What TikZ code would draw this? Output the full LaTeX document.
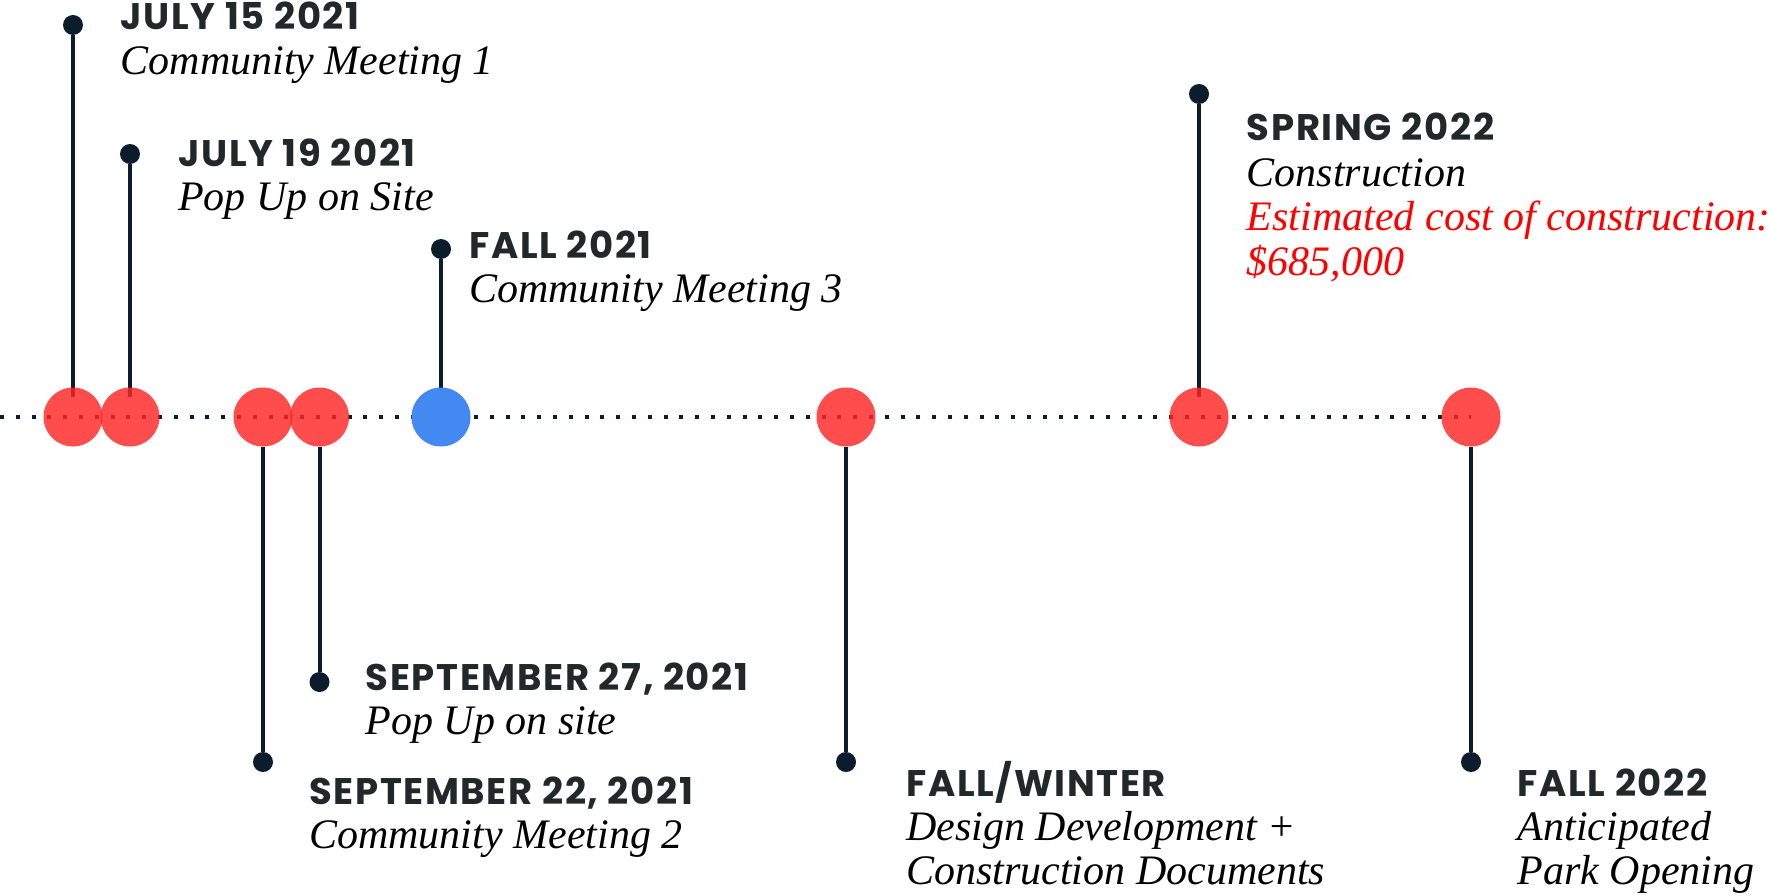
\documentclass[tikz,border=0pt]{standalone}
\usepackage{fontspec}
\usetikzlibrary{backgrounds}
\newfontfamily\headfont{Poppins}[LetterSpace=4.5]
\newfontfamily\descfont{Liberation Serif}
\definecolor{hitred}{RGB}{255,38,38}
\definecolor{hitblue}{RGB}{68,136,242}
\definecolor{navy}{RGB}{11,29,45}
\definecolor{headgrey}{RGB}{34,40,41}
\begin{document}
\begin{tikzpicture}[x=1pt, y=-1pt,
    hit/.style={circle, inner sep=0pt, minimum size=59pt, fill=hitred, fill opacity=0.82},
    hitnow/.style={hit, fill=hitblue, fill opacity=1},
    pin/.style={circle, inner sep=0pt, minimum size=20pt, fill=navy},
    stem/.style={draw=navy, line width=4pt},
    timeline/.style={draw=navy, line width=4pt, dash pattern=on 4pt off 11.8pt},
    head/.style={anchor=base west, inner sep=0pt, text=headgrey, font=\headfont\bfseries\fontsize{37}{37}\selectfont},
    desc/.style={anchor=base west, inner sep=0pt, font=\descfont\itshape\fontsize{42}{42}\selectfont},
    cost/.style={desc, text=red}]
    \useasboundingbox (0,0) rectangle (1769,896);

    % -- Points sur la ligne du temps --
    \node[hit] (c1) at (73,417) {};
    \node[hit] (c2) at (130,417) {};
    \node[hit] (c3) at (263,417) {};
    \node[hit] (c4) at (319.5,417) {};
    \node[hitnow] (c5) at (441,417) {};
    \node[hit] (c6) at (846,417) {};
    \node[hit] (c7) at (1199,417) {};
    \node[hit] (c8) at (1471,417) {};

    % -- Epingles --
    \node[pin] (p1) at (73,25) {};
    \node[pin] (p2) at (130,154) {};
    \node[pin] (p3) at (263,762) {};
    \node[pin] (p4) at (319.5,682) {};
    \node[pin] (p5) at (441,249) {};
    \node[pin] (p6) at (846,762) {};
    \node[pin] (p7) at (1199,94) {};
    \node[pin] (p8) at (1471,762) {};

    % Ligne pointillee et tiges (sous les points)
    \begin{pgfonlayer}{background}
        \draw[timeline] (0,417) -- (c8.center);
        \foreach \c/\p in {c1/p1, c2/p2, c5/p5, c7/p7}
            \draw[stem, shorten <=-10pt] (\c.north) -- (\p);
        \foreach \c/\p in {c3/p3, c4/p4, c6/p6, c8/p8}
            \draw[stem] (\c.south) -- (\p);
    \end{pgfonlayer}

    % -- Textes --
    \node[head] (h1) at (120.5,30) {JULY 15 2021};
    \node[desc] (t1) at (120.5,75) {Community Meeting 1};

    \node[head] (h2) at (178,166.7) {JULY 19 2021};
    \node[desc] (t2) at (178,210.7) {Pop Up on Site};

    \node[head] (h5) at (469,258.3) {FALL 2021};
    \node[desc] (t5) at (469,302.7) {Community Meeting 3};

    \node[head] (h7) at (1246.7,141) {SPRING 2022};
    \node[desc] (t7) at (1246.7,186) {Construction};
    \node[cost] (e7) at (1246.7,230) {Estimated cost of construction:};
    \node[cost] (m7) at (1246.7,275) {\$685,000};

    \node[head] (h4) at (365.5,690) {SEPTEMBER 27, 2021};
    \node[desc] (t4) at (365.5,734.3) {Pop Up on site};

    \node[head] (h3) at (309,804.3) {SEPTEMBER 22, 2021};
    \node[desc] (t3) at (309,848.3) {Community Meeting 2};

    \node[head] (h6) at (906,796.5) {FALL/WINTER};
    \node[desc] (t6) at (906,840.5) {Design Development +};
    \node[desc] (u6) at (906,884.5) {Construction Documents};

    \node[head] (h8) at (1517.5,796.5) {FALL 2022};
    \node[desc] (t8) at (1517.5,840.5) {Anticipated};
    \node[desc] (u8) at (1517.5,884.5) {Park Opening};
\end{tikzpicture}
\end{document}
